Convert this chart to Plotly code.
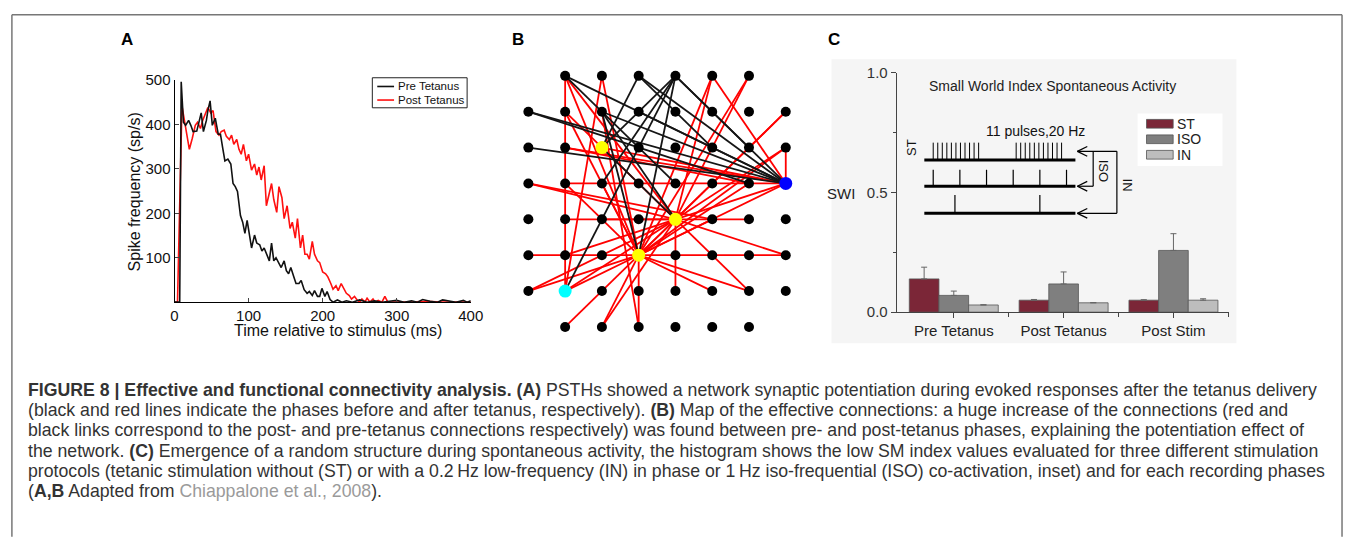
import plotly.graph_objects as go

W, H = 1357, 540
def px(x): return x / W
def py(y): return 1 - y / H

FONT = "Liberation Sans, Arial, sans-serif"

# ---------------- Panel A data (PSTH) ----------------
pre_t = [0, 7, 9, 12, 15, 19, 22, 25, 30, 33, 36, 39, 43, 45, 48, 51, 55, 59, 62, 65,
         68, 72, 76, 79, 82, 85, 89, 92, 95, 98, 101, 104, 108, 111, 115, 118, 121, 124, 128, 131,
         134, 137, 141, 144, 148, 151, 154, 157, 161, 164, 168, 171, 175, 179, 182, 186, 189, 193, 196, 199,
         203, 206, 210, 214, 220, 226, 232, 240, 250, 260, 270, 280, 290, 300, 310, 320, 328, 335, 345, 355,
         362, 370, 380, 390, 395, 400]
pre_v = [0, 0, 496, 405, 398, 409, 398, 384, 385, 405, 426, 384, 409, 431, 453, 398, 414, 378, 378, 347,
         318, 322, 311, 267, 260, 249, 195, 180, 155, 184, 151, 122, 151, 133, 129, 115, 122, 108, 93, 133,
         93, 100, 86, 78, 93, 71, 64, 78, 57, 42, 42, 49, 28, 20, 24, 15, 26, 13, 13, 31,
         13, 24, 6, 0, 5, 0, 3, 0, 5, 0, 3, 0, 2, 4, 0, 3, 0, 6, 2, 0,
         5, 3, 0, 4, 0, 3]

post_t = [0, 4, 10, 13, 17, 20, 24, 28, 31, 35, 38, 42, 45, 49, 52, 56, 60, 63, 67, 70,
          74, 77, 80, 84, 87, 90, 93, 97, 100, 104, 108, 111, 114, 117, 121, 124, 128, 131, 134, 138,
          141, 145, 148, 152, 156, 159, 163, 166, 170, 173, 176, 179, 182, 186, 189, 193, 196, 200, 204, 207,
          211, 214, 218, 221, 225, 228, 232, 236, 239, 243, 246, 250, 253, 257, 260, 264, 268, 271, 275, 280,
          284, 288, 300, 320, 340, 360, 380, 400]
post_v = [0, 0, 442, 413, 369, 344, 369, 398, 405, 391, 409, 427, 438, 426, 431, 384, 376, 384, 387, 373,
          366, 376, 355, 366, 344, 333, 355, 318, 333, 297, 311, 286, 304, 275, 307, 217, 249, 267, 231, 202,
          260, 235, 188, 217, 166, 180, 144, 188, 122, 151, 108, 108, 97, 137, 108, 93, 89, 68, 64, 57,
          42, 29, 37, 26, 42, 31, 20, 15, 7, 13, 6, 0, 7, 0, 9, 0, 7, 0, 4, 0,
          13, 0, 0, 0, 2, 0, 0, 0]

a_xticks = [0, 100, 200, 300, 400]
a_yticks = [100, 200, 300, 400, 500]

# ---------------- Panel B data (MEA effective connectivity) ----------------
grid_n = 8
corners = [(0, 0), (7, 0), (0, 7), (7, 7)]
electrodes = [(c, r) for r in range(grid_n) for c in range(grid_n) if (c, r) not in corners]
special_nodes = [((2, 2), "#ffff00"), ((7, 3), "#0000ff"), ((4, 4), "#ffff00"),
                 ((3, 5), "#ffff00"), ((1, 6), "#00ffff")]

black_edges = [((1, 0), (7, 3)), ((1, 0), (4, 3)), ((0, 1), (7, 3)), ((0, 1), (6, 3)), ((0, 2), (7, 3)),
               ((2, 1), (7, 3)), ((2, 1), (3, 5)), ((2, 1), (4, 4)), ((3, 0), (2, 2)), ((3, 0), (7, 3)),
               ((3, 0), (5, 2)), ((4, 0), (1, 6)), ((4, 0), (2, 2)), ((4, 0), (3, 5)), ((4, 0), (7, 3)),
               ((4, 0), (2, 3)), ((4, 0), (6, 2)), ((3, 1), (7, 3)), ((2, 2), (4, 4))]

red_edges = [((1, 0), (1, 6)), ((1, 0), (4, 4)), ((1, 0), (3, 5)), ((2, 0), (1, 6)), ((2, 0), (3, 5)),
             ((5, 0), (3, 5)), ((5, 0), (7, 3)), ((6, 0), (3, 5)), ((6, 0), (4, 4)), ((7, 1), (4, 4)),
             ((7, 2), (3, 5)), ((7, 2), (7, 3)), ((1, 3), (7, 3)), ((0, 3), (4, 4)), ((1, 2), (7, 3)),
             ((2, 2), (7, 3)), ((1, 4), (4, 4)), ((1, 3), (3, 5)), ((2, 3), (3, 5)), ((0, 5), (3, 5)),
             ((3, 5), (7, 5)), ((0, 6), (3, 5)), ((0, 6), (4, 4)), ((1, 6), (3, 5)), ((1, 6), (4, 4)),
             ((1, 7), (3, 5)), ((2, 7), (3, 5)), ((3, 7), (3, 5)), ((2, 7), (4, 4)), ((4, 4), (4, 6)),
             ((4, 4), (6, 4)), ((2, 4), (4, 4)), ((3, 5), (5, 6)), ((3, 5), (6, 6)), ((4, 4), (6, 6)),
             ((4, 4), (7, 5)), ((3, 5), (7, 3)), ((4, 4), (7, 3)), ((3, 5), (4, 4)), ((3, 5), (6, 3)),
             ((4, 4), (5, 0)), ((3, 5), (7, 1)), ((4, 4), (7, 2)), ((1, 1), (4, 4)), ((1, 1), (3, 5)),
             ((2, 1), (3, 7)), ((0, 3), (5, 4)), ((1, 2), (6, 3)), ((3, 5), (5, 4)), ((1, 5), (4, 4))]

# ---------------- Panel C data (Small World Index) ----------------
phases = ["Pre Tetanus", "Post Tetanus", "Post Stim"]
st_vals = [0.139, 0.050, 0.050]
st_err = [0.049, 0.003, 0.002]
iso_vals = [0.070, 0.118, 0.258]
iso_err = [0.018, 0.050, 0.070]
in_vals = [0.030, 0.039, 0.050]
in_err = [0.001, 0.001, 0.006]
c_yticks = [0, 0.5, 1.0]
c_yticklabels = ["0.0", "0.5", "1.0"]

fig = go.Figure()

# ---- Panel A traces
fig.add_trace(go.Scatter(x=post_t, y=post_v, mode="lines", name="Post Tetanus",
                         line=dict(color="#ff1010", width=1.6), xaxis="x", yaxis="y",
                         showlegend=False, cliponaxis=False))
fig.add_trace(go.Scatter(x=pre_t, y=pre_v, mode="lines", name="Pre Tetanus",
                         line=dict(color="#111111", width=1.6), xaxis="x", yaxis="y",
                         showlegend=False, cliponaxis=False))

# ---- Panel B traces
def edge_xy(edges):
    xs, ys = [], []
    for (a, b) in edges:
        xs += [a[0], b[0], None]
        ys += [a[1], b[1], None]
    return xs, ys

rx, ry = edge_xy(red_edges)
bx, by = edge_xy(black_edges)
fig.add_trace(go.Scatter(x=rx, y=ry, mode="lines", line=dict(color="#ff0000", width=1.8),
                         xaxis="x2", yaxis="y2", showlegend=False, hoverinfo="skip"))
fig.add_trace(go.Scatter(x=bx, y=by, mode="lines", line=dict(color="#151515", width=1.8),
                         xaxis="x2", yaxis="y2", showlegend=False, hoverinfo="skip"))
fig.add_trace(go.Scatter(x=[e[0] for e in electrodes], y=[e[1] for e in electrodes], mode="markers",
                         marker=dict(color="black", size=10), xaxis="x2", yaxis="y2",
                         showlegend=False, cliponaxis=False))
fig.add_trace(go.Scatter(x=[n[0][0] for n in special_nodes], y=[n[0][1] for n in special_nodes],
                         mode="markers", marker=dict(color=[n[1] for n in special_nodes], size=13),
                         xaxis="x2", yaxis="y2", showlegend=False, cliponaxis=False))

# ---- Panel C traces
xpos = list(range(len(phases)))
for vals, errs, col, nm in [(st_vals, st_err, "#7b2637", "ST"),
                             (iso_vals, iso_err, "#7f7f7f", "ISO"),
                             (in_vals, in_err, "#bdbdbd", "IN")]:
    fig.add_trace(go.Bar(x=xpos, y=vals, name=nm, xaxis="x3", yaxis="y3", showlegend=False,
                         marker=dict(color=col, line=dict(color="#555555", width=0.8)),
                         error_y=dict(type="data", array=errs, arrayminus=[0] * len(errs),
                                      symmetric=False, color="#666666", thickness=1, width=3)))

axis_font = dict(family=FONT, size=15, color="#111")
fig.update_layout(
    width=W, height=H, margin=dict(l=0, r=0, t=0, b=0),
    paper_bgcolor="white", plot_bgcolor="rgba(0,0,0,0)",
    font=dict(family=FONT, color="#222"),
    barmode="group", bargap=0.19, bargroupgap=0,
    xaxis=dict(domain=[px(172.7), px(472.7)], range=[0, 400], anchor="y",
               tickvals=a_xticks, ticks="inside", ticklen=4, showline=True, linecolor="black",
               linewidth=1, showgrid=False, zeroline=False, tickfont=axis_font),
    yaxis=dict(domain=[py(302.7), py(73.3)], range=[0, 500], anchor="x",
               tickvals=a_yticks, ticks="inside", ticklen=4, showline=True, linecolor="black",
               linewidth=1, showgrid=False, zeroline=False, tickfont=axis_font),
    xaxis2=dict(domain=[px(512.4), px(810.3)], range=[-0.5, 7.5], anchor="y2", visible=False),
    yaxis2=dict(domain=[py(346.8), py(50.5)], range=[7.5, -0.5], anchor="x2", visible=False),
    xaxis3=dict(domain=[px(904), px(1241)], range=[-0.52, 2.51], anchor="y3",
                tickvals=xpos, ticktext=phases, ticks="outside", ticklen=5, tickcolor="#444",
                minor=dict(tickvals=[0.5, 1.5, 2.5], ticks="outside", ticklen=4, tickcolor="#444"),
                showline=True, linecolor="#444", linewidth=1, showgrid=False, zeroline=False,
                tickfont=dict(family=FONT, size=15, color="#222")),
    yaxis3=dict(domain=[py(313), py(66)], range=[0, 1], anchor="x3",
                tickvals=c_yticks, ticktext=c_yticklabels, ticks="outside", ticklen=5, tickcolor="#444",
                minor=dict(tickvals=[0.25, 0.75], ticks="outside", ticklen=3, tickcolor="#444"),
                showline=True, linecolor="#444", linewidth=1, showgrid=False, zeroline=False,
                tickfont=dict(family=FONT, size=15, color="#333")),
)

shapes = []
ann = []

def line(x0, y0, x1, y1, color="black", width=1, layer="above"):
    shapes.append(dict(type="line", xref="paper", yref="paper", x0=px(x0), y0=py(y0),
                       x1=px(x1), y1=py(y1), line=dict(color=color, width=width), layer=layer))

def text(x, y, s, size=14, color="#222", angle=0, xanchor="center", bold=False, family=FONT):
    ann.append(dict(xref="paper", yref="paper", x=px(x), y=py(y), text=(f"<b>{s}</b>" if bold else s),
                    showarrow=False, xanchor=xanchor, yanchor="middle", textangle=angle,
                    font=dict(family=family, size=size, color=color)))

# outer frame
line(8, 6, 1355, 6, "#777", 1.5)
line(8, 6, 8, 545, "#777", 1.5)
line(1355, 6, 1355, 545, "#777", 1.5)

# Panel C backgrounds
shapes.append(dict(type="rect", xref="paper", yref="paper", x0=px(838), x1=px(1248), y0=py(345), y1=py(52),
                   fillcolor="#f5f5f5", line=dict(width=0), layer="below"))
shapes.append(dict(type="rect", xref="paper", yref="paper", x0=px(1148), x1=px(1234), y0=py(162), y1=py(108),
                   fillcolor="white", line=dict(width=0), layer="below"))

# panel labels
text(125, 32, "A", 17, "black", bold=True)
text(521, 32, "B", 17, "black", bold=True)
text(841, 32, "C", 17, "black", bold=True)

# Panel A titles
text(132, 189, "Spike frequency (sp/s)", 16, "#111", angle=-90)
text(338, 332, "Time relative to stimulus (ms)", 16, "#111")
# Panel A legend (manual)
shapes.append(dict(type="rect", xref="paper", yref="paper", x0=px(373), x1=px(469), y0=py(102), y1=py(71),
                   line=dict(color="#222", width=1), fillcolor="white", layer="above"))
line(378, 80, 395, 80, "#111", 1.6)
line(378, 94, 395, 94, "#ff1010", 1.6)
text(397, 80, "Pre Tetanus", 11.5, "#111", xanchor="left")
text(397, 94, "Post Tetanus", 11.5, "#111", xanchor="left")

# Panel C texts
text(1062, 80, "Small World Index Spontaneous Activity", 14, "#222")
text(848, 190, "SWI", 15, "#222")
# legend C
for (y0, y1, col, lab) in [(114, 123, "#7b2637", "ST"), (130, 139, "#7f7f7f", "ISO"), (146, 155, "#bdbdbd", "IN")]:
    shapes.append(dict(type="rect", xref="paper", yref="paper", x0=px(1157), x1=px(1184), y0=py(y1), y1=py(y0),
                       fillcolor=col, line=dict(color="#555", width=0.8), layer="above"))
    text(1186, (y0 + y1) / 2, lab, 14, "#222", xanchor="left")

# inset schematic
text(1045, 126, "11 pulses,20 Hz", 14, "#111")
text(919, 143, "ST", 13, "#111", angle=-90)
text(1113, 167, "ISO", 13, "#111", angle=90)
text(1138, 182, "IN", 13, "#111", angle=90)
for yl in (156, 183, 211):
    line(932, yl, 1085, yl, "black", 3)
for k in range(11):
    for x0 in (941, 1025):
        xx = x0 + k * 4.6
        line(xx, 138, xx, 156, "black", 1)
for xx in (941, 968, 995, 1022, 1049, 1076):
    line(xx, 166, xx, 183, "black", 1.2)
for xx in (963, 1049):
    line(xx, 192, xx, 211, "black", 1.2)
for ya in (147, 183, 211):
    line(1087, ya, 1097, ya - 5, "black", 1.3)
    line(1087, ya, 1097, ya + 5, "black", 1.3)
line(1087, 147, 1127, 147, "black", 1.2)
line(1127, 147, 1127, 211, "black", 1.2)
line(1127, 211, 1087, 211, "black", 1.2)
line(1103, 147, 1103, 183, "black", 1.2)
line(1103, 183, 1087, 183, "black", 1.2)

# caption
cap_lines = [
    "<b>FIGURE 8 | Effective and functional connectivity analysis. (A)</b> PSTHs showed a network synaptic potentiation during evoked responses after the tetanus delivery",
    "(black and red lines indicate the phases before and after tetanus, respectively). <b>(B)</b> Map of the effective connections: a huge increase of the connections (red and",
    "black links correspond to the post- and pre-tetanus connections respectively) was found between pre- and post-tetanus phases, explaining the potentiation effect of",
    "the network. <b>(C)</b> Emergence of a random structure during spontaneous activity, the histogram shows the low SM index values evaluated for three different stimulation",
    "protocols (tetanic stimulation without (ST) or with a 0.2\u2009Hz low-frequency (IN) in phase or 1\u2009Hz iso-frequential (ISO) co-activation, inset) and for each recording phases",
    "(<b>A,B</b> Adapted from <span style='color:#9a9a9a'>Chiappalone et al., 2008</span>).",
]
for i, s in enumerate(cap_lines):
    text(22, 393 + 21 * i, s, 17.7, "#333", xanchor="left")

fig.update_layout(shapes=shapes, annotations=ann)
fig.write_html("out.html", config={"displayModeBar": False},
               post_script="document.body.style.margin='0';document.body.style.padding='0';"
                           "document.body.style.overflow='hidden';")
